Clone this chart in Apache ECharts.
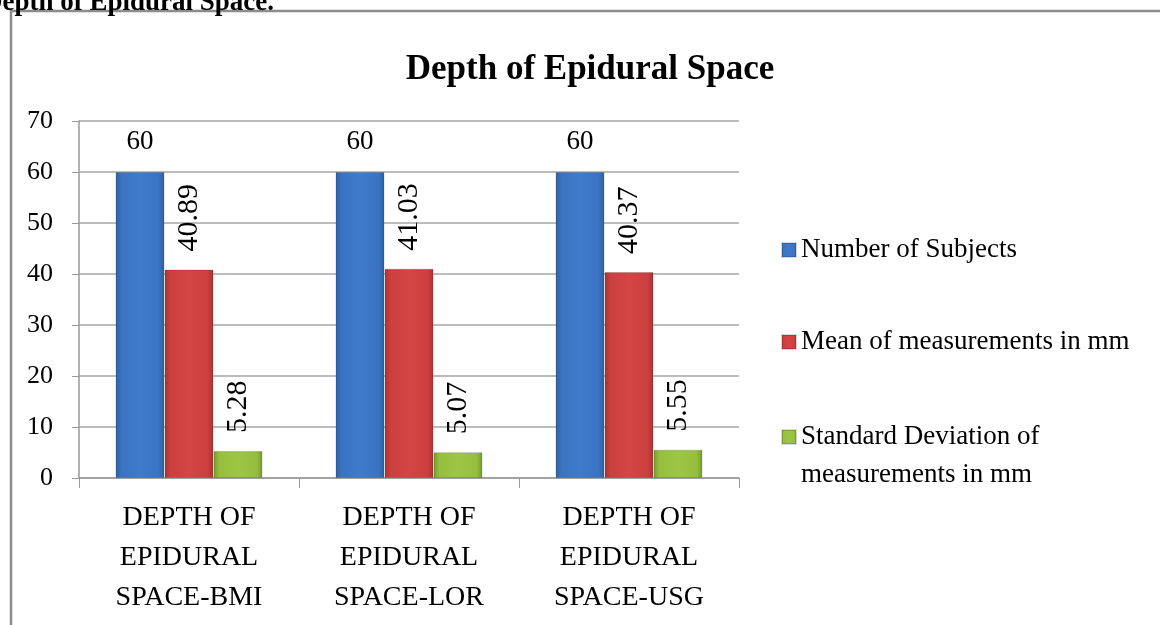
<!DOCTYPE html>
<html>
<head>
<meta charset="utf-8">
<script src="https://cdn.jsdelivr.net/npm/echarts@6/dist/echarts.min.js"></script>
<style>
html, body { margin: 0; padding: 0; background: #fff; }
#chart { width: 1160px; height: 625px; }
</style>
</head>
<body>
<div id="chart"></div>
<script>
let categories = ['DEPTH OF\nEPIDURAL\nSPACE-BMI', 'DEPTH OF\nEPIDURAL\nSPACE-LOR', 'DEPTH OF\nEPIDURAL\nSPACE-USG'];
let seriesNames = ['Number of Subjects', 'Mean of measurements in mm', 'Standard Deviation of measurements in mm'];
let subjects = [60, 60, 60];
let means = [40.89, 41.03, 40.37];
let stdDevs = [5.28, 5.07, 5.55];
let yTicks = [0, 10, 20, 30, 40, 50, 60, 70];

let serif = "'Liberation Serif', 'Times New Roman', serif";

function bevel(dark, main, light) {
    return new echarts.graphic.LinearGradient(0, 0, 1, 0, [
        { offset: 0, color: dark },
        { offset: 0.12, color: main },
        { offset: 0.5, color: light },
        { offset: 0.88, color: main },
        { offset: 1, color: dark }
    ]);
}

let colors = [
    bevel('#2f5f9f', '#3a73c2', '#3f7acb'),
    bevel('#a83232', '#cc3f3f', '#d44545'),
    bevel('#759a2c', '#96bf3e', '#9cc644')
];

function makeSeries(i, data, vertical) {
    let label = {
        show: true,
        position: 'top',
        distance: 17,
        fontFamily: serif,
        fontSize: 27,
        color: '#000'
    };
    if (vertical) {
        label.rotate = 90;
        label.align = 'left';
        label.verticalAlign = 'middle';
        label.fontSize = 30;
        label.distance = 18;
    }
    return {
        name: seriesNames[i],
        type: 'bar',
        data: data,
        barWidth: 49,
        barGap: '0%',
        itemStyle: {
            color: colors[i],
            borderColor: 'rgba(0,0,0,0.15)',
            borderWidth: 1
        },
        label: label
    };
}

let legendText = { fontFamily: serif, fontSize: 27, color: '#000', lineHeight: 38 };

let chart = echarts.init(document.getElementById('chart'));
chart.setOption({
    animation: false,
    title: {
        text: 'Depth of Epidural Space',
        left: 585,
        textAlign: 'center',
        top: 47,
        textStyle: {
            fontFamily: serif,
            fontWeight: 'bold',
            fontSize: 35,
            color: '#000'
        }
    },
    graphic: [
        {
            type: 'text',
            left: -17,
            top: -10,
            style: {
                text: 'Depth of Epidural Space.',
                fontFamily: serif,
                fontWeight: 'bold',
                fontSize: 27,
                fill: '#000'
            }
        },
        {
            type: 'rect',
            shape: { x: 11, y: 11, width: 1170, height: 640 },
            style: { fill: 'none', stroke: '#8c8c8c', lineWidth: 2.5 },
            z: -1
        }
    ],
    legend: [
        {
            data: [seriesNames[0]],
            orient: 'vertical',
            left: 781,
            top: 231,
            padding: 0,
            icon: 'rect',
            itemWidth: 14,
            itemHeight: 14,
            textStyle: legendText
        },
        {
            data: [seriesNames[1]],
            orient: 'vertical',
            left: 781,
            top: 323,
            padding: 0,
            icon: 'rect',
            itemWidth: 14,
            itemHeight: 14,
            textStyle: legendText
        },
        {
            data: [seriesNames[2]],
            orient: 'vertical',
            left: 781,
            top: 380,
            padding: 0,
            icon: 'rect',
            itemWidth: 14,
            itemHeight: 14,
            formatter: function () {
                return ' \nStandard Deviation of\nmeasurements in mm';
            },
            textStyle: legendText
        }
    ],
    grid: {
        left: 79,
        right: 421,
        top: 121,
        bottom: 147
    },
    xAxis: {
        type: 'category',
        data: categories,
        axisLine: { lineStyle: { color: '#999', width: 1.5 } },
        axisTick: { show: true, length: 10, lineStyle: { color: '#999' } },
        axisLabel: {
            margin: 20,
            fontFamily: serif,
            fontSize: 28,
            lineHeight: 40,
            color: '#000'
        }
    },
    yAxis: {
        type: 'value',
        min: 0,
        max: 70,
        interval: 10,
        axisLine: { show: true, lineStyle: { color: '#999', width: 1.5 } },
        axisTick: { show: true, length: 7, lineStyle: { color: '#999' } },
        splitLine: { lineStyle: { color: '#a6a6a6', width: 1.5 } },
        axisLabel: {
            margin: 26,
            fontFamily: serif,
            fontSize: 26,
            color: '#000',
            customValues: yTicks
        }
    },
    series: [
        makeSeries(0, subjects, false),
        makeSeries(1, means, true),
        makeSeries(2, stdDevs, true)
    ]
});
</script>
</body>
</html>
